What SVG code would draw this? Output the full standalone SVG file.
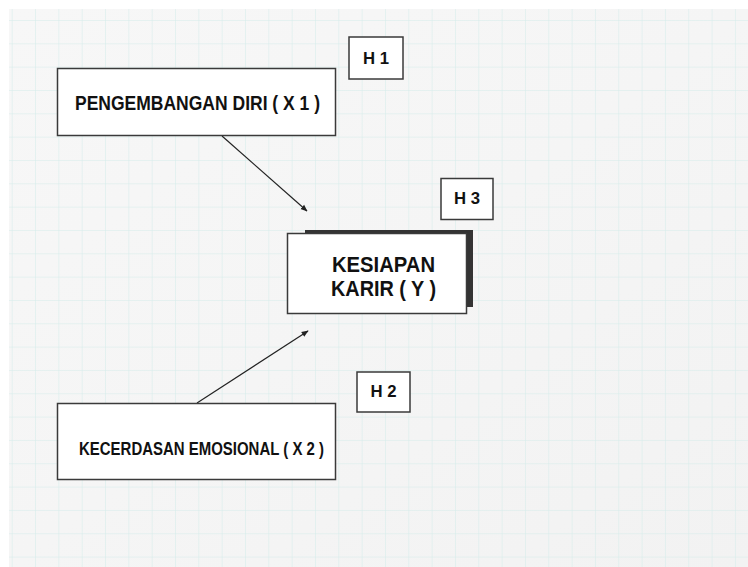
<svg xmlns="http://www.w3.org/2000/svg" width="748" height="567" viewBox="0 0 748 567">
<style>
.box{fill:#ffffff;stroke:#3a3a3a;stroke-width:1.5}
.lbl{font-family:"Liberation Sans",Arial,sans-serif;font-weight:bold;fill:#111;}
.edge{stroke:#222;stroke-width:1.2;fill:none;marker-end:url(#arr)}
</style>
<defs>
<pattern id="grid" patternUnits="userSpaceOnUse" x="11.7" y="20" width="23.33" height="23.33">
<path d="M0 0H23.33M0 0V23.33" stroke="#d3ecea" stroke-width="1" fill="none"/>
</pattern>
<linearGradient id="paper" x1="0" y1="0" x2="1" y2="1">
<stop offset="0" stop-color="#f7f7f7"/>
<stop offset="0.5" stop-color="#f5f5f5"/>
<stop offset="1" stop-color="#f2f2f2"/>
</linearGradient>
<marker id="arr" viewBox="0 0 10 10" refX="9" refY="5" markerWidth="7" markerHeight="7" orient="auto" markerUnits="userSpaceOnUse">
<path d="M0 1L10 5L0 9Z" fill="#222"/>
</marker>
</defs>
<rect x="0" y="0" width="748" height="567" fill="#ffffff"/>
<rect x="9" y="9" width="739" height="558" fill="url(#paper)"/>
<rect x="9" y="9" width="739" height="558" fill="url(#grid)"/>

<g id="connectors">
<line class="edge" x1="222" y1="136" x2="307" y2="211"/>
<line class="edge" x1="197" y1="403" x2="308" y2="331"/>
</g>

<g id="h1">
<rect class="box" x="349" y="37" width="54" height="42"/>
<text class="lbl" x="376" y="64" font-size="16" text-anchor="middle" textLength="26" lengthAdjust="spacingAndGlyphs">H 1</text>
</g>

<g id="x1">
<rect class="box" x="57.5" y="68.5" width="278" height="67"/>
<text class="lbl" x="75" y="110" font-size="20" textLength="245" lengthAdjust="spacingAndGlyphs">PENGEMBANGAN DIRI ( X 1 )</text>
</g>

<g id="h3">
<rect class="box" x="441" y="178.5" width="52" height="41"/>
<text class="lbl" x="467" y="204" font-size="16" text-anchor="middle" textLength="26" lengthAdjust="spacingAndGlyphs">H 3</text>
</g>

<g id="y">
<rect x="305" y="230" width="168" height="77" fill="#333"/>
<rect class="box" x="287.5" y="233.5" width="179" height="80"/>
<text class="lbl" x="332" y="272" font-size="22" textLength="103" lengthAdjust="spacingAndGlyphs">KESIAPAN</text>
<text class="lbl" x="331" y="296" font-size="22" textLength="105" lengthAdjust="spacingAndGlyphs">KARIR ( Y )</text>
</g>

<g id="h2">
<rect class="box" x="357" y="372" width="53" height="40"/>
<text class="lbl" x="383.5" y="397" font-size="16" text-anchor="middle" textLength="26" lengthAdjust="spacingAndGlyphs">H 2</text>
</g>

<g id="x2">
<rect class="box" x="57.5" y="403.5" width="278" height="76"/>
<text class="lbl" x="79" y="455" font-size="19" textLength="245" lengthAdjust="spacingAndGlyphs">KECERDASAN EMOSIONAL  ( X 2 )</text>
</g>
</svg>
